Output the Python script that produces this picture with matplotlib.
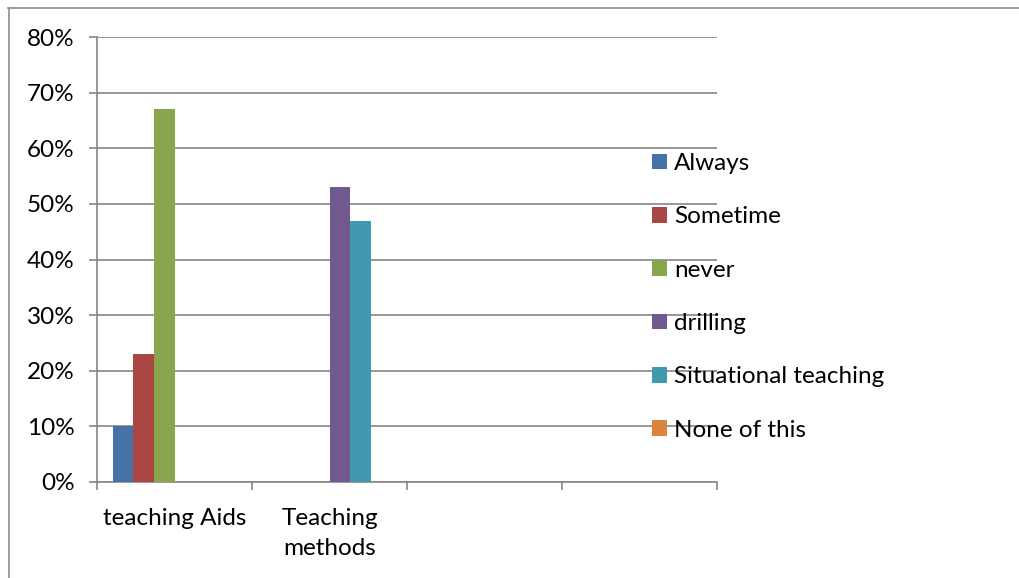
import matplotlib.pyplot as plt
import numpy as np
from matplotlib.lines import Line2D
from matplotlib.ticker import PercentFormatter

# data (percent)
categories = ["teaching Aids", "Teaching\nmethods", "", ""]
series_names = ["Always", "Sometime", "never", "drilling", "Situational teaching", "None of this"]
always = [10, 0, 0, 0]
sometime = [23, 0, 0, 0]
never = [67, 0, 0, 0]
drilling = [0, 53, 0, 0]
situational = [0, 47, 0, 0]
none_of_this = [0, 0, 0, 0]
colors = ["#4572A7", "#AA4643", "#89A54E", "#71588F", "#4198AF", "#DB843D"]

plt.rcParams["font.family"] = ["Lato", "DejaVu Sans"]
grid_col = "#868686"
fs = 17.5

fig = plt.figure(figsize=(10.19, 5.78), dpi=100)
ax = fig.add_axes([97 / 1019, 96 / 578, 620 / 1019, 445 / 578])

all_series = [always, sometime, never, drilling, situational, none_of_this]
x = np.arange(len(categories))
w = 1 / 7.5
for i, (vals, name, c) in enumerate(zip(all_series, series_names, colors)):
    ax.bar(x + (i - 2.5) * w, vals, width=w, color=c, label=name, zorder=3)

ax.set_xlim(-0.5, len(categories) - 0.5)
ax.set_ylim(0, 80)
ax.set_yticks(np.arange(0, 81, 10))
ax.yaxis.set_major_formatter(PercentFormatter(decimals=0))
ax.set_xticks(x)
ax.set_xticklabels(categories, fontsize=fs, linespacing=1.53)
ax.set_xticks(np.arange(-0.5, len(categories), 1), minor=True)
ax.tick_params(axis="x", which="major", length=0, pad=18.5)
ax.tick_params(axis="x", which="minor", length=6, color=grid_col, width=1.2)
ax.tick_params(axis="y", length=6, color=grid_col, width=1.2, labelsize=fs, pad=10)
ax.grid(axis="y", color=grid_col, linewidth=1.2, zorder=0)
for s in ["top", "right"]:
    ax.spines[s].set_visible(False)
for s in ["left", "bottom"]:
    ax.spines[s].set_color(grid_col)
    ax.spines[s].set_linewidth(1.2)

ax.legend(loc="upper left", bbox_to_anchor=(652 / 1019, 1 - 153 / 578), bbox_transform=fig.transFigure,
          frameon=False, fontsize=fs, handlelength=0.62, handleheight=0.62, handletextpad=0.3,
          labelspacing=1.33, borderaxespad=0, borderpad=0)

# outer frame of the chart area
fig.add_artist(Line2D([8 / 1019, 1], [1 - 8 / 578, 1 - 8 / 578], color="#8c8c8c", linewidth=1.2))
fig.add_artist(Line2D([9 / 1019, 9 / 1019], [0, 1 - 8 / 578], color="#8c8c8c", linewidth=1.2))

plt.savefig("out.png", dpi=100)
